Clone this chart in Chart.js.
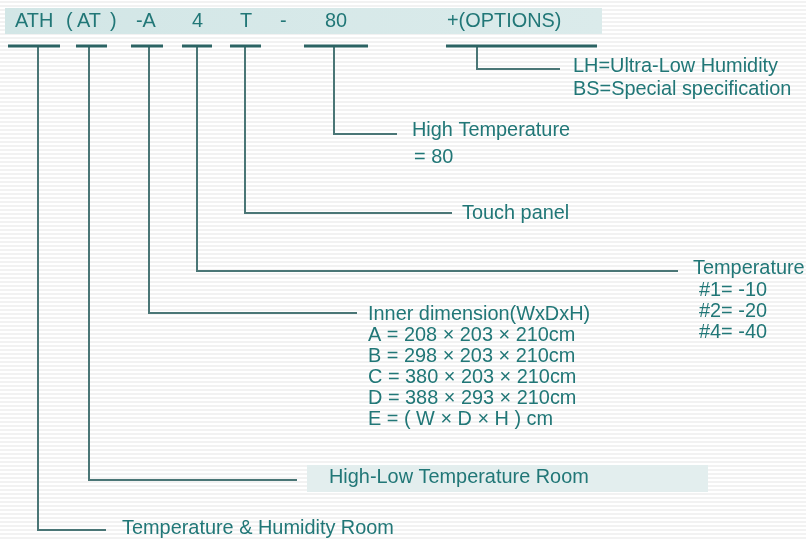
<!DOCTYPE html>
<html>
<head>
<meta charset="utf-8">
<script src="https://cdn.jsdelivr.net/npm/chart.js@4"></script>
<style>
  html, body { margin: 0; padding: 0; background: #fff; }
  #wrap { width: 806px; height: 539px; }
</style>
</head>
<body>
<div id="wrap"><canvas id="codeChart" width="806" height="539"></canvas></div>
<script>
// model code parts shown in the header band
const codeParts = ["ATH", "(", "AT", ")", "-A", "4", "T", "-", "80", "+(OPTIONS)"];
const codeX = [15, 66, 77, 110, 136, 192, 240, 280, 325, 447];

// one branch per code part (left to right)
const branchNames = [
  "Temperature & Humidity Room",
  "High-Low Temperature Room",
  "Inner dimension(WxDxH)",
  "Temperature",
  "Touch panel",
  "High Temperature",
  "LH=Ultra-Low Humidity"
];
const branchDetails = [
  [],
  [],
  ["A = 208 \u00d7 203 \u00d7 210cm", "B = 298 \u00d7 203 \u00d7 210cm", "C = 380 \u00d7 203 \u00d7 210cm",
   "D = 388 \u00d7 293 \u00d7 210cm", "E = ( W \u00d7 D \u00d7 H ) cm"],
  ["#1= -10", "#2= -20", "#4= -40"],
  [],
  ["= 80"],
  ["BS=Special specification"]
];

// layout in axis units (the axes run 0..806 and 0..539)
const underlineFrom = [8, 76, 131, 182, 230, 304, 446];
const underlineTo = [60, 107, 163, 212, 261, 368, 597];
const underlineY = 46;
const stemX = [38, 89, 149, 197, 245, 334, 477];
const elbowY = [530, 480, 313, 271, 213, 134, 69];
const elbowEndX = [106, 297, 357, 678, 452, 397, 560];
const labelX = [122, 329, 368, 693, 462, 412, 573];
const labelY = [529, 478, 315, 269, 214, 131, 67];
const detailX = [0, 0, 368, 699, 0, 414, 573];
const detailY = [0, 0, 336, 291, 0, 158, 90];
const lineGap = 21;

const TEXT = "#217777";
const FONT = '19.9px "Liberation Sans", Arial, sans-serif';

const datasets = [];
for (let i = 0; i < stemX.length; i++) {
  datasets.push({
    data: [{ x: underlineFrom[i], y: underlineY }, { x: underlineTo[i], y: underlineY }],
    borderColor: "#2b6363",
    borderWidth: 3
  });
  datasets.push({
    data: [
      { x: stemX[i], y: underlineY },
      { x: stemX[i], y: elbowY[i] },
      { x: elbowEndX[i], y: elbowY[i] }
    ],
    borderColor: "#4a7676",
    borderWidth: 2
  });
}
datasets.forEach((d) => {
  d.showLine = true;
  d.pointRadius = 0;
  d.tension = 0;
  d.borderCapStyle = "butt";
  d.borderJoinStyle = "miter";
});

const backdrop = {
  id: "backdrop",
  beforeDatasetsDraw(chart) {
    const { ctx, scales } = chart;
    const X = (v) => scales.x.getPixelForValue(v);
    const Y = (v) => scales.y.getPixelForValue(v);
    ctx.save();
    ctx.fillStyle = "#ffffff";
    ctx.fillRect(0, 0, chart.width, chart.height);
    // faint horizontal stripes
    ctx.fillStyle = "#f2f2f2";
    for (let y = 1; y < chart.height; y += 4) {
      ctx.fillRect(0, y, chart.width, 2);
    }
    // header band
    let g = ctx.createLinearGradient(X(5), 0, X(602), 0);
    g.addColorStop(0, "#d2e6e6");
    g.addColorStop(1, "#dbebeb");
    ctx.fillStyle = g;
    ctx.fillRect(X(5), Y(8), X(602) - X(5), Y(34) - Y(8));
    // band behind High-Low label
    ctx.fillStyle = "#e3eeee";
    ctx.fillRect(X(307), Y(465), X(708) - X(307), Y(492) - Y(465));
    ctx.restore();
  }
};

const labels = {
  id: "labels",
  afterDatasetsDraw(chart) {
    const { ctx, scales } = chart;
    const X = (v) => scales.x.getPixelForValue(v);
    const Y = (v) => scales.y.getPixelForValue(v);
    ctx.save();
    ctx.font = FONT;
    ctx.fillStyle = TEXT;
    ctx.textBaseline = "middle";
    ctx.textAlign = "left";
    codeParts.forEach((t, i) => ctx.fillText(t, X(codeX[i]), Y(22)));
    branchNames.forEach((t, i) => {
      ctx.fillText(t, X(labelX[i]), Y(labelY[i]));
      branchDetails[i].forEach((d, j) => {
        ctx.fillText(d, X(detailX[i]), Y(detailY[i] + j * lineGap));
      });
    });
    ctx.restore();
  }
};

new Chart(document.getElementById("codeChart"), {
  type: "scatter",
  data: { datasets: datasets },
  options: {
    responsive: false,
    animation: false,
    layout: { padding: 0 },
    plugins: { legend: { display: false }, tooltip: { enabled: false } },
    scales: {
      x: { type: "linear", min: 0, max: 806, display: false },
      y: { type: "linear", min: 0, max: 539, reverse: true, display: false }
    }
  },
  plugins: [backdrop, labels]
});
</script>
</body>
</html>
